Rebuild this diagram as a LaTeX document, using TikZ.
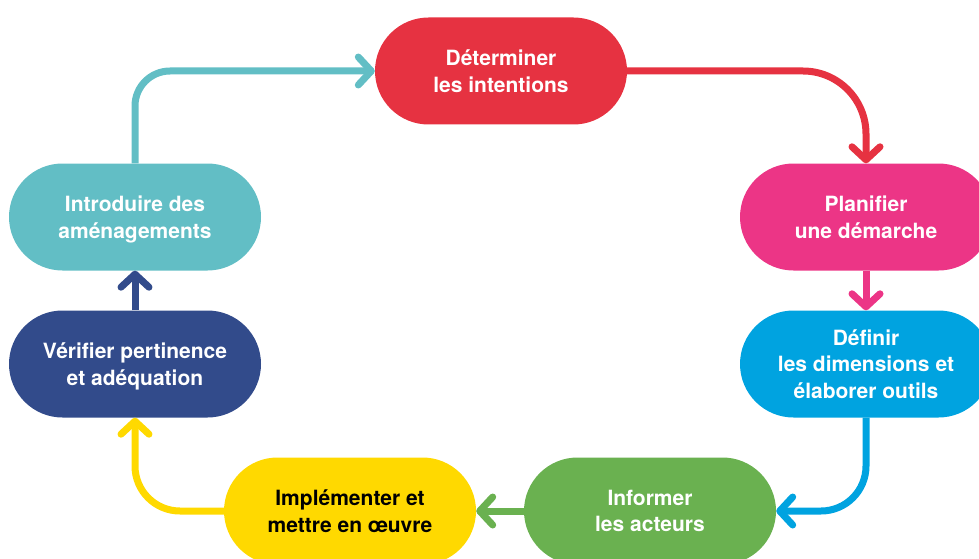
\documentclass[tikz,border=0pt]{standalone}
\usepackage{fontspec}
\setmainfont{TeX Gyre Heros}
\usetikzlibrary{arrows.meta}
\definecolor{rouge}{HTML}{E63241}
\definecolor{rose}{HTML}{EC3586}
\definecolor{bleu}{HTML}{00A3E0}
\definecolor{vert}{HTML}{6AB150}
\definecolor{jaune}{HTML}{FFD900}
\definecolor{marine}{HTML}{324B8B}
\definecolor{turquoise}{HTML}{62BEC5}
\tikzset{
	etape/.style={rectangle,rounded corners=53.5pt,minimum width=252pt,minimum height=107pt,
		inner sep=0pt,text depth=-5pt,align=center,text=white,font=\fontsize{21}{26.5}\selectfont\bfseries},
	fleche/.style={line width=7pt,-{Straight Barb[length=13pt,width=28pt,round]}}
}
\begin{document}
\begin{tikzpicture}[x=1pt,y=-1pt]
		\useasboundingbox(0,0)rectangle(979,559);
		\clip(0,0)rectangle(979,559);
		\node[etape,fill=rouge](det)at(501,71){Déterminer\\les intentions};
		\node[etape,fill=rose](plan)at(866,217){Planifier\\une démarche};
		\node[etape,fill=bleu](def)at(866,364){Définir\\les dimensions et\\élaborer outils};
		\node[etape,fill=vert](inf)at(650,511){Informer\\les acteurs};
		\node[etape,fill=jaune,text=black](impl)at(350,511){Implémenter et\\mettre en œuvre};
		\node[etape,fill=marine](ver)at(135,364){Vérifier pertinence\\et adéquation};
		\node[etape,fill=turquoise](intro)at(135,217){Introduire des\\aménagements};
		\draw[fleche,rouge,rounded corners=63pt](det)-|(plan);
		\draw[fleche,rose](plan)--(def);
		\draw[fleche,bleu,rounded corners=45pt](def)|-(inf);
		\draw[fleche,vert](inf)--(impl);
		\draw[fleche,jaune,rounded corners=45pt](impl)-|(ver);
		\draw[fleche,marine](ver)--(intro);
		\draw[fleche,turquoise,rounded corners=35pt](intro)|-(det);
	\end{tikzpicture}
\end{document}
